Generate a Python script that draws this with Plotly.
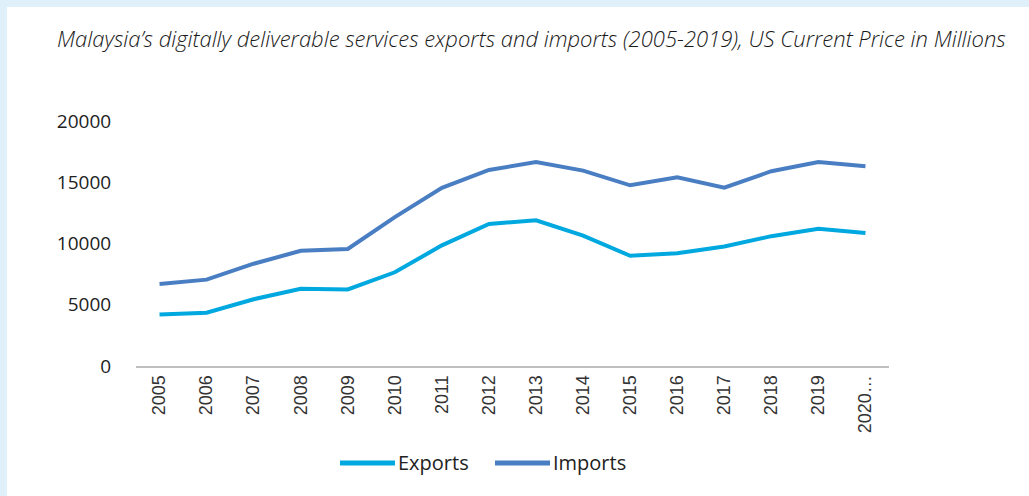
import plotly.graph_objects as go

years = ["2005", "2006", "2007", "2008", "2009", "2010", "2011", "2012",
         "2013", "2014", "2015", "2016", "2017", "2018", "2019", "2020…"]
exports = [4200, 4350, 5450, 6300, 6250, 7650, 9850, 11600,
           11900, 10650, 9000, 9200, 9750, 10600, 11200, 10850]
imports = [6700, 7050, 8350, 9400, 9550, 12150, 14550, 16000,
           16650, 15950, 14750, 15400, 14550, 15900, 16650, 16300]
series_names = ["Exports", "Imports"]
series_colors = ["#00A8E0", "#4A7EC3"]
title_text = "Malaysia\u2019s digitally deliverable services exports and imports (2005-2019), US Current Price in Millions"

W, H = 1029, 496
L, R, T, B = 136, 140, 121, 130
pw, ph = W - L - R, H - T - B

def px_x(p):
    return (p - L) / pw

def px_y(p):
    return (H - B - p) / ph

fig = go.Figure()
for name, vals, col in zip(series_names, [exports, imports], series_colors):
    fig.add_trace(go.Scatter(x=years, y=vals, name=name, mode="lines",
                             line=dict(color=col, width=4), showlegend=False))

# custom legend (long line samples as in the reference)
legend_items = [(340, 395, 398), (495, 550, 553)]
shapes = [dict(type="rect", xref="paper", yref="paper",
               x0=px_x(7), x1=px_x(W + 5), y0=px_y(H + 5), y1=px_y(7),
               fillcolor="white", line=dict(width=0), layer="below")]
annotations = [dict(text="<i>" + title_text + "</i>", xref="paper", yref="paper",
                    x=px_x(531.5), y=px_y(38), xanchor="center", yanchor="middle",
                    showarrow=False, font=dict(size=22, color="#1A1A1A", weight=300))]
for (lx0, lx1, tx), name, col in zip(legend_items, series_names, series_colors):
    shapes.append(dict(type="line", xref="paper", yref="paper",
                       x0=px_x(lx0), x1=px_x(lx1), y0=px_y(463), y1=px_y(463),
                       line=dict(color=col, width=5)))
    annotations.append(dict(text=name, xref="paper", yref="paper",
                            x=px_x(tx - 2), y=px_y(462), xanchor="left", yanchor="middle",
                            showarrow=False, font=dict(size=20, color="#222222")))

fig.update_layout(
    width=W, height=H,
    margin=dict(l=L, r=R, t=T, b=B),
    paper_bgcolor="#DFF0FB",
    plot_bgcolor="rgba(0,0,0,0)",
    font=dict(family="Open Sans", color="#222222", size=17),
    shapes=shapes,
    annotations=annotations,
    showlegend=False,
    xaxis=dict(type="category", range=[-0.5, 15.5], showline=True,
               linecolor="#BFBFBF", linewidth=2,
               showgrid=False, zeroline=False, tickangle=-90,
               ticks="", tickfont=dict(size=18, family="Liberation Sans", color="#333333")),
    yaxis=dict(range=[0, 20000], tickvals=[0, 5000, 10000, 15000, 20000],
               ticktext=["0", "5000", "10000", "15000", "20000"],
               showgrid=False, zeroline=False, showline=False,
               ticks="outside", ticklen=20, tickcolor="rgba(0,0,0,0)",
               tickfont=dict(size=19, color="#222222")),
)

fig.write_html("out.html")
